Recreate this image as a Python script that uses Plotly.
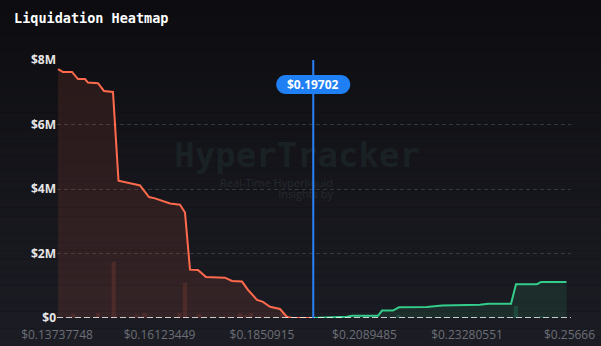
import plotly.graph_objects as go

# ---- data (prices in USD, values in USD millions) ----
long_prices = [0.13761, 0.13877, 0.14087, 0.14226, 0.14389, 0.14459, 0.14692, 0.14831, 0.15041,
               0.15169, 0.15600, 0.15670, 0.15879, 0.16019, 0.16368, 0.16600, 0.16717, 0.16833,
               0.17019, 0.17206, 0.17648, 0.17811, 0.18044, 0.18183, 0.18393, 0.18532, 0.18695,
               0.18928, 0.19091, 0.19207, 0.19702]
long_cum_m = [7.72, 7.63, 7.63, 7.41, 7.41, 7.30, 7.28, 7.04, 7.01,
              4.26, 4.13, 4.11, 3.75, 3.71, 3.55, 3.51, 3.27, 1.50,
              1.49, 1.27, 1.25, 1.15, 1.13, 0.87, 0.56, 0.50, 0.35,
              0.28, 0.03, 0.0, 0.0]

short_prices = [0.19702, 0.20162, 0.20488, 0.20604, 0.21209, 0.21302, 0.21558, 0.21698, 0.22350,
                0.22699, 0.23583, 0.23770, 0.24305, 0.24421, 0.24910, 0.25003, 0.25596]
short_cum_m = [0.0, 0.01, 0.04, 0.07, 0.07, 0.23, 0.23, 0.33, 0.34,
               0.39, 0.41, 0.44, 0.44, 1.05, 1.05, 1.12, 1.12]

long_bar_prices = [0.14110, 0.14692, 0.15057, 0.15593, 0.15774, 0.16589, 0.16717, 0.17043,
                   0.17671, 0.17997, 0.18113, 0.18253, 0.18509, 0.18975]
long_bar_m = [0.12, 0.15, 1.74, 0.09, 0.16, 0.16, 1.10, 0.12, 0.05, 0.15, 0.09, 0.15, 0.05, 0.15]

short_bar_prices = [0.20965, 0.21681, 0.22768, 0.24416, 0.25010]
short_bar_m = [0.09, 0.10, 0.03, 0.37, 0.06]

current_price = 0.19702
current_label = "$0.19702"

x_tick_vals = [0.13737748, 0.16123449, 0.1850915, 0.2089485, 0.23280551, 0.25666]
x_tick_text = ["$0.13737748", "$0.16123449", "$0.1850915", "$0.2089485", "$0.23280551", "$0.25666"]
y_tick_vals_m = [0, 2, 4, 6, 8]
y_tick_text = ["$0", "$2M", "$4M", "$6M", "$8M"]

title_text = "Liquidation Heatmap"
watermark = "HyperTracker"
watermark_sub = ["Real-Time Hyperliquid", "Insights by"]

M = 1e6
RED = "#ff6a4d"
GREEN = "#34cc8a"
BLUE = "#2a80f5"

W, H = 601, 346
ML, MR, MT, MB = 57, 30, 60, 28
PW, PH = W - ML - MR, H - MT - MB

fig = go.Figure()

# bars (individual levels)
fig.add_trace(go.Bar(x=long_bar_prices, y=[v * M for v in long_bar_m], width=0.001,
                     marker=dict(color="rgba(255,106,77,0.13)", line=dict(width=0)),
                     hoverinfo="skip", showlegend=False))
fig.add_trace(go.Bar(x=short_bar_prices, y=[v * M for v in short_bar_m], width=0.001,
                     marker=dict(color="rgba(52,204,138,0.18)", line=dict(width=0)),
                     hoverinfo="skip", showlegend=False))

# cumulative lines
fig.add_trace(go.Scatter(x=long_prices, y=[v * M for v in long_cum_m], mode="lines",
                         line=dict(color=RED, width=2), fill="tozeroy",
                         fillcolor="rgba(255,100,75,0.11)", showlegend=False))
fig.add_trace(go.Scatter(x=short_prices, y=[v * M for v in short_cum_m], mode="lines",
                         line=dict(color=GREEN, width=2), fill="tozeroy",
                         fillcolor="rgba(52,204,138,0.10)", showlegend=False))

# watermark on an overlay axis (0..1)
fig.add_trace(go.Scatter(x=[0.467], y=[0.62], mode="text", text=[watermark],
                         textfont=dict(family="DejaVu Sans Mono", size=34, color="#1a2124", weight="bold"),
                         xaxis="x2", yaxis="y2", hoverinfo="skip", showlegend=False))
fig.add_trace(go.Scatter(x=[0.537, 0.537], y=[0.52, 0.474], mode="text", text=watermark_sub,
                         textposition="middle left",
                         textfont=dict(family="Open Sans", size=11, color="#25292f"),
                         xaxis="x2", yaxis="y2", hoverinfo="skip", showlegend=False))

shapes = []
# background vertical gradient
top = (13, 13, 17)
bot = (28, 29, 36)
n = 40
x0p, x1p = -ML / PW, 1 + MR / PW
y0p, y1p = -MB / PH, 1 + MT / PH
for i in range(n):
    t = i / (n - 1)
    c = tuple(round(top[k] + (bot[k] - top[k]) * t) for k in range(3))
    ya = y1p - (y1p - y0p) * i / n
    yb = y1p - (y1p - y0p) * (i + 1) / n
    shapes.append(dict(type="rect", xref="paper", yref="paper", x0=x0p, x1=x1p, y0=yb, y1=ya,
                       fillcolor="rgb(%d,%d,%d)" % c, line=dict(width=0), layer="below"))
# zero line
shapes.append(dict(type="line", xref="paper", yref="y", x0=0, x1=1, y0=0, y1=0,
                   line=dict(color="white", width=1.5, dash="6px,3px"), layer="above"))
# current price line
shapes.append(dict(type="line", xref="x", yref="paper", x0=current_price, x1=current_price, y0=0, y1=1,
                   line=dict(color=BLUE, width=2), layer="above"))
# pill
hw, hh, k = 37.0, 9.5, 0.5523
sx = hw - hh
pill = (f"M {-sx},{-hh} L {sx},{-hh} "
        f"C {sx + k * hh},{-hh} {hw},{-k * hh} {hw},0 "
        f"C {hw},{k * hh} {sx + k * hh},{hh} {sx},{hh} "
        f"L {-sx},{hh} "
        f"C {-sx - k * hh},{hh} {-hw},{k * hh} {-hw},0 "
        f"C {-hw},{-k * hh} {-sx - k * hh},{-hh} {-sx},{-hh} Z")
pill_y = (H - MB - 84.5) / PH
shapes.append(dict(type="path", xref="x", yref="paper", xsizemode="pixel", ysizemode="pixel",
                   xanchor=current_price, yanchor=pill_y, path=pill,
                   fillcolor="#1f80f5", line=dict(width=0), layer="above"))

annotations = [
    dict(x=current_price, y=pill_y, xref="x", yref="paper", text="<b>" + current_label + "</b>",
         showarrow=False, font=dict(family="Open Sans", size=12, color="white"),
         xanchor="center", yanchor="middle"),
    dict(x=(12 - ML) / PW, y=(H - MB - 18) / PH, xref="paper", yref="paper", text=title_text,
         showarrow=False, font=dict(family="DejaVu Sans Mono", size=13.5, color="white", weight="bold"),
         xanchor="left", yanchor="middle"),
]

fig.update_layout(
    width=W, height=H,
    margin=dict(l=ML, r=MR, t=MT, b=MB, pad=0, autoexpand=False),
    paper_bgcolor="#0d0d11",
    plot_bgcolor="rgba(0,0,0,0)",
    barmode="overlay",
    shapes=shapes,
    annotations=annotations,
    xaxis=dict(range=[0.13737748, 0.25701], tickvals=x_tick_vals, ticktext=x_tick_text,
               showgrid=False, zeroline=False, showline=False, ticks="", automargin=False,
               ticklabelstandoff=8,
               tickfont=dict(family="Open Sans", size=12, color="#6c6f76")),
    yaxis=dict(range=[0, 8 * M], tickvals=[v * M for v in y_tick_vals_m], ticktext=y_tick_text,
               showgrid=True, gridcolor="#37383d", griddash="4px,3px", gridwidth=1,
               zeroline=False, showline=False, ticks="", automargin=False,
               tickfont=dict(family="Open Sans", size=12, color="#e6e6e6", weight="bold")),
    xaxis2=dict(overlaying="x", range=[0, 1], visible=False),
    yaxis2=dict(overlaying="y", range=[0, 1], visible=False),
    showlegend=False,
)

fig.write_html("out.html")
